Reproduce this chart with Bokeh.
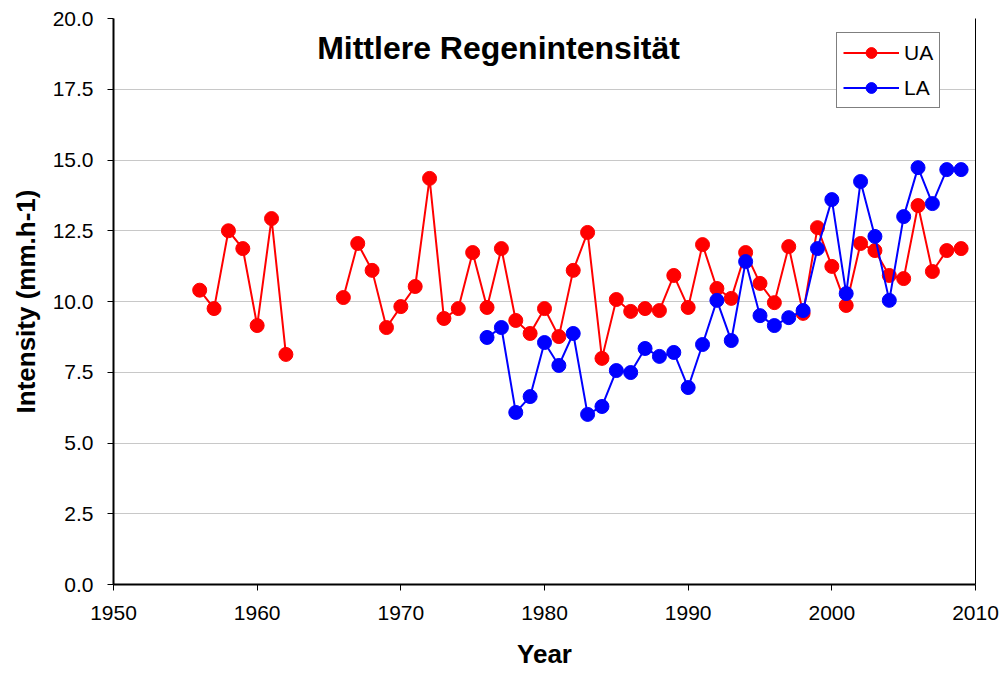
import numpy as np
from bokeh.plotting import figure
from bokeh.models import (ColumnDataSource, LinearAxis, Legend, LegendItem,
                          FixedTicker, NumeralTickFormatter, Label, Range1d)
from bokeh.embed import file_html
from bokeh.resources import INLINE

nan = float("nan")

# --- data -----------------------------------------------------------------
ua_years = list(range(1956, 2010))
ua_values = [10.4, 9.75, 12.5, 11.87, 9.15, 12.93, 8.13,
             nan, nan, nan,
             10.14, 12.05, 11.1, 9.08, 9.82, 10.53, 14.35, 9.4, 9.75, 11.73,
             9.79, 11.87, 9.33, 8.87, 9.75, 8.76, 11.1, 12.44, 7.99, 10.07,
             9.65, 9.75, 9.68, 10.92, 9.79, 12.01, 10.46, 10.11, 11.73, 10.64,
             9.96, 11.94, 9.58, 12.61, 11.24, 9.86, 12.05, 11.8, 10.92, 10.81,
             13.39, 11.06, 11.8, 11.87]

la_years = list(range(1976, 2010))
la_values = [8.73, 9.08, 6.08, 6.64, 8.55, 7.74, 8.87, 6.01, 6.29, 7.56,
             7.49, 8.34, 8.06, 8.2, 6.96, 8.48, 10.04, 8.62, 11.41, 9.5,
             9.15, 9.43, 9.68, 11.87, 13.6, 10.28, 14.24, 12.3, 10.04, 13.0,
             14.73, 13.46, 14.66, 14.66]

x_ticks = [1950, 1960, 1970, 1980, 1990, 2000, 2010]
y_ticks = [0, 2.5, 5, 7.5, 10, 12.5, 15, 17.5, 20]

title_text = "Mittlere Regenintensität"
x_label = "Year"
y_label = "Intensity (mm.h-1)"
series_names = ["UA", "LA"]

# --- figure ---------------------------------------------------------------
FONT = "Liberation Sans"
W, H = 1001, 677
L, R, T, B = 113, 26, 18, 93

p = figure(width=W, height=H, output_backend="svg", toolbar_location=None,
           x_range=Range1d(1950, 2010), y_range=Range1d(0, 20),
           min_border_left=L, min_border_right=R,
           min_border_top=T, min_border_bottom=B)

p.outline_line_color = None
p.background_fill_color = "white"
p.border_fill_color = "white"

p.xgrid.grid_line_color = None
p.ygrid.grid_line_color = "#909090"
p.ygrid.grid_line_dash = "1 1"
p.ygrid.grid_line_width = 1

for ax, ticks in ((p.xaxis[0], x_ticks), (p.yaxis[0], y_ticks)):
    ax.ticker = FixedTicker(ticks=ticks)
    ax.axis_line_color = "black"
    ax.axis_line_width = 2
    ax.major_tick_line_color = "black"
    ax.major_tick_line_width = 1
    ax.major_tick_out = 6
    ax.major_tick_in = 0
    ax.minor_tick_line_color = None
    ax.major_label_text_font = FONT
    ax.major_label_text_font_size = "21px"
    ax.major_label_text_color = "black"
    ax.axis_label_text_font = FONT
    ax.axis_label_text_font_size = "26px"
    ax.axis_label_text_font_style = "bold"
    ax.axis_label_text_color = "black"

p.yaxis[0].formatter = NumeralTickFormatter(format="0.0")
p.xaxis[0].axis_label = x_label
p.yaxis[0].axis_label = y_label
p.xaxis[0].major_label_standoff = 15
p.yaxis[0].major_label_standoff = 14
p.xaxis[0].axis_label_standoff = 16
p.yaxis[0].axis_label_standoff = 9

# right border line
right_ax = LinearAxis(ticker=FixedTicker(ticks=[]), axis_line_color="black",
                      axis_line_width=1, major_label_text_font_size="0px",
                      major_tick_line_color=None, minor_tick_line_color=None)
p.add_layout(right_ax, "right")

ua_src = ColumnDataSource(dict(x=ua_years, y=ua_values))
la_src = ColumnDataSource(dict(x=la_years, y=la_values))

ua_line = p.line("x", "y", source=ua_src, line_color="#ff0000", line_width=2)
ua_pts = p.scatter("x", "y", source=ua_src, size=14, fill_color="#ff0000",
                   line_color="#ff0000")
la_line = p.line("x", "y", source=la_src, line_color="#0000ff", line_width=2)
la_pts = p.scatter("x", "y", source=la_src, size=14, fill_color="#0000ff",
                   line_color="#0000ff")

legend = Legend(items=[LegendItem(label=series_names[0], renderers=[ua_line, ua_pts]),
                       LegendItem(label=series_names[1], renderers=[la_line, la_pts])])
legend.label_text_font = FONT
legend.label_text_font_size = "21px"
legend.label_text_color = "black"
legend.border_line_color = "black"
legend.border_line_width = 1.5
legend.background_fill_alpha = 1
legend.glyph_width = 56
legend.glyph_height = 27
legend.label_height = 27
legend.spacing = 8
legend.padding = 6
legend.margin = 0
legend.label_standoff = 5
legend.location = (723, 476)
p.add_layout(legend, "center")

title = Label(x=1976.8, y=18.94, text=title_text, text_font=FONT,
              text_font_size="32px", text_font_style="bold", text_color="black",
              text_align="center", text_baseline="middle")
p.add_layout(title)

open("out.html", "w").write(file_html(p, INLINE))
